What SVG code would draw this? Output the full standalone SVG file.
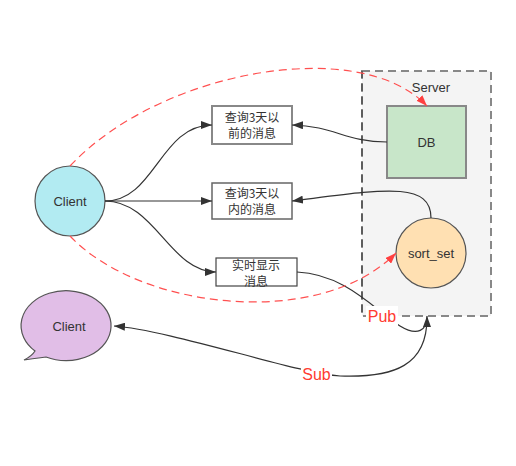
<svg xmlns="http://www.w3.org/2000/svg" width="516" height="466" viewBox="0 0 516 466">
<defs>
<style>
text{font-family:"Liberation Sans","Noto Sans CJK SC",sans-serif;font-size:13px;fill:#333;text-anchor:middle}
.cjk{font-family:"Noto Sans CJK SC","Liberation Sans",sans-serif;font-size:12px}
.edge{fill:none;stroke:#333;stroke-width:1.2}
.red{fill:none;stroke:#ff5050;stroke-width:1.2;stroke-dasharray:8 5}
.lbl{fill:#ff3b30;font-size:16px}
</style>
<marker id="ah" viewBox="0 0 10 10" refX="10" refY="5" markerWidth="11" markerHeight="8" markerUnits="userSpaceOnUse" orient="auto" preserveAspectRatio="none"><path d="M0,0 L10,5 L0,10 Z" fill="#333"/></marker>
<marker id="rah" viewBox="0 0 10 10" refX="10" refY="5" markerWidth="11" markerHeight="8" markerUnits="userSpaceOnUse" orient="auto" preserveAspectRatio="none"><path d="M0,0 L10,5 L0,10 Z" fill="#ff4040"/></marker>
</defs>
<rect width="516" height="466" fill="#fff"/>
<g id="server">
<rect x="362" y="71" width="129" height="245" fill="#f4f4f4" stroke="#888" stroke-width="2" stroke-dasharray="8 5"/>
<line x1="362" y1="71" x2="362" y2="316" stroke="#333" stroke-width="1" stroke-dasharray="8 5"/>
<text x="431" y="92">Server</text>
</g>
<g id="db">
<rect x="387" y="106" width="79" height="72" fill="#c8e6c9" stroke="#888" stroke-width="2"/>
<text x="426.5" y="147">DB</text>
</g>
<g id="sort_set">
<circle cx="431" cy="253" r="35" fill="#ffe0b2" stroke="#555" stroke-width="1.2"/>
<text x="431" y="258">sort_set</text>
</g>
<g id="client">
<circle cx="70" cy="201" r="35" fill="#b2ebf2" stroke="#555" stroke-width="1.2"/>
<text x="70" y="206">Client</text>
</g>
<g id="client2">
<path d="M35,351 A45,35 0 1 1 46,357 Q30,359 24,360 Q32,356 35,351 Z" fill="#e1bee7" stroke="#555" stroke-width="1.2"/>
<text x="69" y="331">Client</text>
</g>
<g id="box1">
<rect x="212" y="106" width="80" height="38" fill="#fff" stroke="#888" stroke-width="2"/>
<text class="cjk" x="252" y="122">查询3天以</text>
<text class="cjk" x="252" y="138">前的消息</text>
</g>
<g id="box2">
<rect x="212" y="183" width="80" height="36" fill="#fff" stroke="#666" stroke-width="1.5"/>
<text class="cjk" x="252" y="198">查询3天以</text>
<text class="cjk" x="252" y="214">内的消息</text>
</g>
<g id="box3">
<rect x="216" y="258" width="81" height="28" fill="#fff" stroke="#444" stroke-width="1.2"/>
<text class="cjk" x="256" y="270">实时显示</text>
<text class="cjk" x="256" y="286">消息</text>
</g>
<g id="connectors">
<path class="edge" d="M105,201 C155,201 160,125 212,125" marker-end="url(#ah)"/>
<path class="edge" d="M105,201 C150,201 170,201 212,201" marker-end="url(#ah)"/>
<path class="edge" d="M105,201 C155,201 170,272 216,272" marker-end="url(#ah)"/>
<path class="edge" d="M387,142 C345,142 335,126 292,125" marker-end="url(#ah)"/>
<path class="edge" d="M431,218 C431,180 380,190 292,201" marker-end="url(#ah)"/>
<path class="edge" d="M297,272 C345,274 375,310 400,326 C418,337 427,330 427,316" marker-end="url(#ah)"/>
<path class="edge" d="M427,318 C427,365 395,378 340,376 C300,374 170,330 114,326" marker-end="url(#ah)"/>
<path class="red" d="M70,166 C160,70 360,35 427,106" marker-end="url(#rah)"/>
<path class="red" d="M70,236 C140,310 320,330 396,253" marker-end="url(#rah)"/>
<rect x="366" y="306" width="32" height="20" fill="#fff"/>
<text class="lbl" x="382" y="322">Pub</text>
<rect x="301" y="364" width="31" height="20" fill="#fff"/>
<text class="lbl" x="316.5" y="380">Sub</text>
</g>
</svg>
